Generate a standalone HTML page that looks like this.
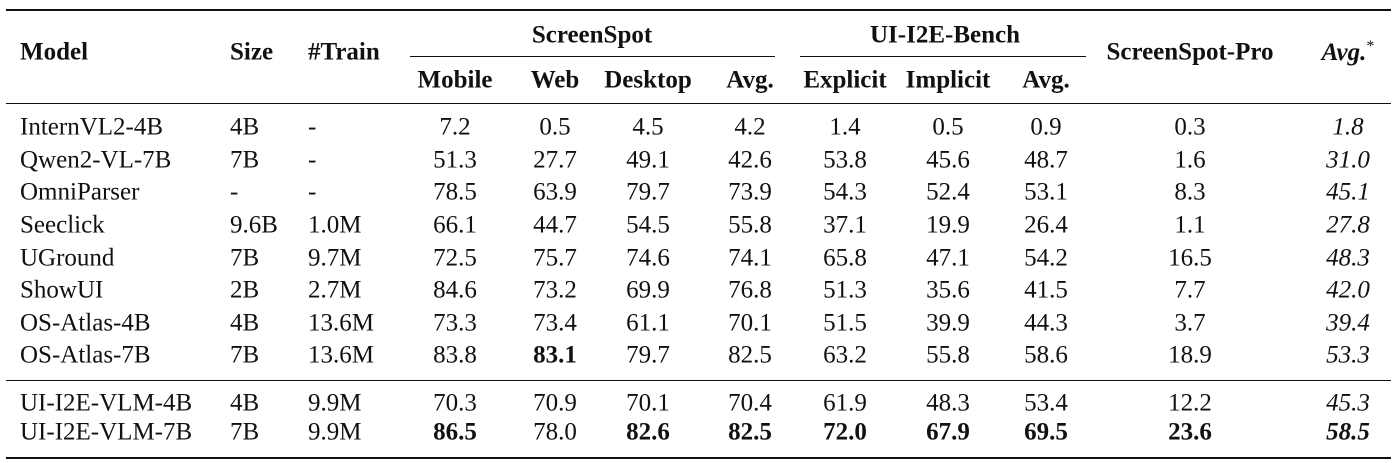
<!DOCTYPE html>
<html><head><meta charset="utf-8"><style>
body{margin:0;background:#fff;}
#c{position:relative;width:1398px;height:463px;overflow:hidden;font-family:"Liberation Serif",serif;font-size:25px;color:#111;}
.t{position:absolute;white-space:nowrap;transform:translate(-50%,-50%);line-height:1;}
.l{position:absolute;white-space:nowrap;transform:translateY(-50%);line-height:1;}
.b{font-weight:bold}.i{font-style:italic}
.r{position:absolute;background:#111;}
</style></head><body><div id="c">
<div class="r" style="left:6px;width:1385px;top:9px;height:2px"></div>
<div class="r" style="left:410px;width:365px;top:56px;height:1px"></div>
<div class="r" style="left:800px;width:286px;top:56px;height:1px"></div>
<div class="r" style="left:6px;width:1385px;top:103px;height:1px"></div>
<div class="r" style="left:6px;width:1385px;top:380px;height:1px"></div>
<div class="r" style="left:6px;width:1385px;top:457px;height:2px"></div>

<div class="l b" style="left:20px;top:52px">Model</div>
<div class="l b" style="left:230px;top:52px">Size</div>
<div class="l b" style="left:308px;top:52px">#Train</div>
<div class="t b" style="left:592px;top:35px">ScreenSpot</div>
<div class="t b" style="left:945px;top:35px">UI-I2E-Bench</div>
<div class="t b" style="left:1190px;top:52px">ScreenSpot-Pro</div>
<div class="t b i" style="left:1348px;top:52px">Avg.<sup style="font-size:16px;font-weight:normal;font-style:normal">*</sup></div>
<div class="t b" style="left:455px;top:80px">Mobile</div>
<div class="t b" style="left:555px;top:80px">Web</div>
<div class="t b" style="left:648px;top:80px">Desktop</div>
<div class="t b" style="left:750px;top:80px">Avg.</div>
<div class="t b" style="left:845px;top:80px">Explicit</div>
<div class="t b" style="left:948px;top:80px">Implicit</div>
<div class="t b" style="left:1046px;top:80px">Avg.</div>
<div id="rows"></div>
</div>
<script>
var rows=[
[127,"InternVL2-4B","4B","-","7.2","0.5","4.5","4.2","1.4","0.5","0.9","0.3","1.8"],
[160,"Qwen2-VL-7B","7B","-","51.3","27.7","49.1","42.6","53.8","45.6","48.7","1.6","31.0"],
[192,"OmniParser","-","-","78.5","63.9","79.7","73.9","54.3","52.4","53.1","8.3","45.1"],
[225,"Seeclick","9.6B","1.0M","66.1","44.7","54.5","55.8","37.1","19.9","26.4","1.1","27.8"],
[258,"UGround","7B","9.7M","72.5","75.7","74.6","74.1","65.8","47.1","54.2","16.5","48.3"],
[290,"ShowUI","2B","2.7M","84.6","73.2","69.9","76.8","51.3","35.6","41.5","7.7","42.0"],
[323,"OS-Atlas-4B","4B","13.6M","73.3","73.4","61.1","70.1","51.5","39.9","44.3","3.7","39.4"],
[355,"OS-Atlas-7B","7B","13.6M","83.8","*83.1","79.7","82.5","63.2","55.8","58.6","18.9","53.3"],
[403,"UI-I2E-VLM-4B","4B","9.9M","70.3","70.9","70.1","70.4","61.9","48.3","53.4","12.2","45.3"],
[432,"UI-I2E-VLM-7B","7B","9.9M","*86.5","78.0","*82.6","*82.5","*72.0","*67.9","*69.5","*23.6","*58.5"]];
var xs=[455,555,648,750,845,948,1046,1190,1348],h="";
rows.forEach(function(r){
 var y=r[0];
 h+='<div class="l" style="left:20px;top:'+y+'px">'+r[1]+'</div>';
 h+='<div class="l" style="left:230px;top:'+y+'px">'+r[2]+'</div>';
 h+='<div class="l" style="left:308px;top:'+y+'px">'+r[3]+'</div>';
 for(var k=0;k<9;k++){var v=r[4+k],c="t";if(v[0]=="*"){v=v.slice(1);c+=" b";}if(k==8)c+=" i";
  h+='<div class="'+c+'" style="left:'+xs[k]+'px;top:'+y+'px">'+v+'</div>';}
});
document.getElementById("rows").innerHTML=h;
</script>
</body></html>
